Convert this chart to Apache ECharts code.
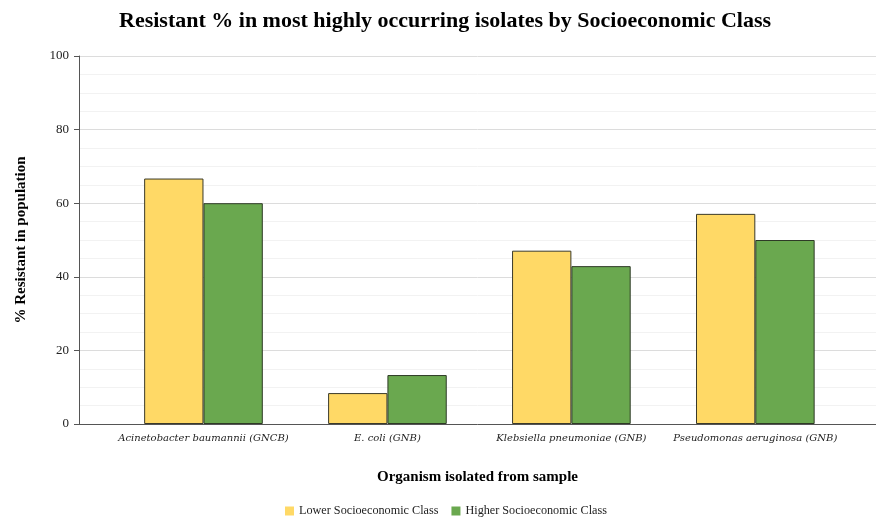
<!DOCTYPE html>
<html lang="en">
<head>
    <meta charset="UTF-8">
    <title>Resistant % by Socioeconomic Class</title>
    <style>
        html, body, #main {
            width: 100%;
            height: 100%;
            margin: 0;
            padding: 0;
            background-color: #fff;
        }
    </style>
    <script src="https://cdn.jsdelivr.net/npm/echarts@6/dist/echarts.min.js"></script>
</head>
<body>
    <div id="main"></div>
    <script>
        // chart data
        const organisms = [
            'Acinetobacter baumannii (GNCB)',
            'E. coli (GNB)',
            'Klebsiella pneumoniae (GNB)',
            'Pseudomonas aeruginosa (GNB)'
        ];
        const lowerClass = [66.7, 8.4, 47.1, 57.1];
        const higherClass = [60.0, 13.3, 42.9, 50.0];
        const seriesNames = ['Lower Socioeconomic Class', 'Higher Socioeconomic Class'];

        const serif = '"Liberation Serif", "Times New Roman", serif';

        var chart = echarts.init(document.getElementById('main'));

        var option = {
            animation: false,
            title: {
                text: 'Resistant % in most highly occurring isolates by Socioeconomic Class',
                left: 114,
                top: 5,
                textStyle: { fontFamily: serif, fontWeight: 'bold', fontSize: 22, color: '#000' }
            },
            legend: {
                top: 505,
                left: 285,
                padding: 0,
                itemWidth: 9,
                itemHeight: 9,
                itemGap: 13,
                icon: 'rect',
                itemStyle: { borderWidth: 0 },
                textStyle: { fontFamily: serif, fontSize: 12.2, color: '#222' },
                data: seriesNames
            },
            // grid 0 draws the axes frame, grid 1 holds the bars
            grid: [
                { left: 79, right: 0, top: 56, height: 368 },
                { left: 111.5, right: 28.7, top: 56, height: 368 }
            ],
            xAxis: [
                {
                    gridIndex: 0,
                    type: 'category',
                    data: [''],
                    axisLine: { lineStyle: { color: '#555', width: 1 } },
                    axisTick: { show: false },
                    axisLabel: { show: false },
                    name: 'Organism isolated from sample',
                    nameLocation: 'middle',
                    nameGap: 46,
                    nameTextStyle: { fontFamily: serif, fontWeight: 'bold', fontSize: 15, color: '#000' }
                },
                {
                    gridIndex: 1,
                    type: 'category',
                    data: organisms,
                    axisLine: { show: false },
                    axisTick: { show: false },
                    axisLabel: {
                        interval: 0,
                        margin: 9,
                        fontFamily: '"DejaVu Serif", serif',
                        fontStyle: 'italic',
                        fontSize: 10,
                        color: '#222'
                    }
                }
            ],
            yAxis: [
                {
                    gridIndex: 0,
                    type: 'value',
                    min: 0,
                    max: 100,
                    interval: 20,
                    axisLine: { show: true, lineStyle: { color: '#555' } },
                    axisTick: { show: true, length: 5, lineStyle: { color: '#555' } },
                    axisLabel: { fontFamily: serif, fontSize: 13, color: '#222', margin: 10 },
                    splitLine: { lineStyle: { color: '#dcdcdc' } },
                    minorTick: { show: false, splitNumber: 4 },
                    minorSplitLine: { show: true, lineStyle: { color: '#f2f2f2' } },
                    name: '% Resistant in population',
                    nameLocation: 'middle',
                    nameGap: 50,
                    nameTextStyle: { fontFamily: serif, fontWeight: 'bold', fontSize: 15, color: '#000' }
                },
                {
                    gridIndex: 1,
                    type: 'value',
                    min: 0,
                    max: 100,
                    show: false
                }
            ],
            series: [
                {
                    name: seriesNames[0],
                    type: 'bar',
                    xAxisIndex: 1,
                    yAxisIndex: 1,
                    data: lowerClass,
                    barGap: '0%',
                    barCategoryGap: '35.5%',
                    itemStyle: { color: '#FFD966', borderColor: '#3a3a2a', borderWidth: 1 }
                },
                {
                    name: seriesNames[1],
                    type: 'bar',
                    xAxisIndex: 1,
                    yAxisIndex: 1,
                    data: higherClass,
                    barGap: '0%',
                    barCategoryGap: '35.5%',
                    itemStyle: { color: '#6AA84F', borderColor: '#2e3a26', borderWidth: 1 }
                }
            ]
        };

        chart.setOption(option);
    </script>
</body>
</html>
